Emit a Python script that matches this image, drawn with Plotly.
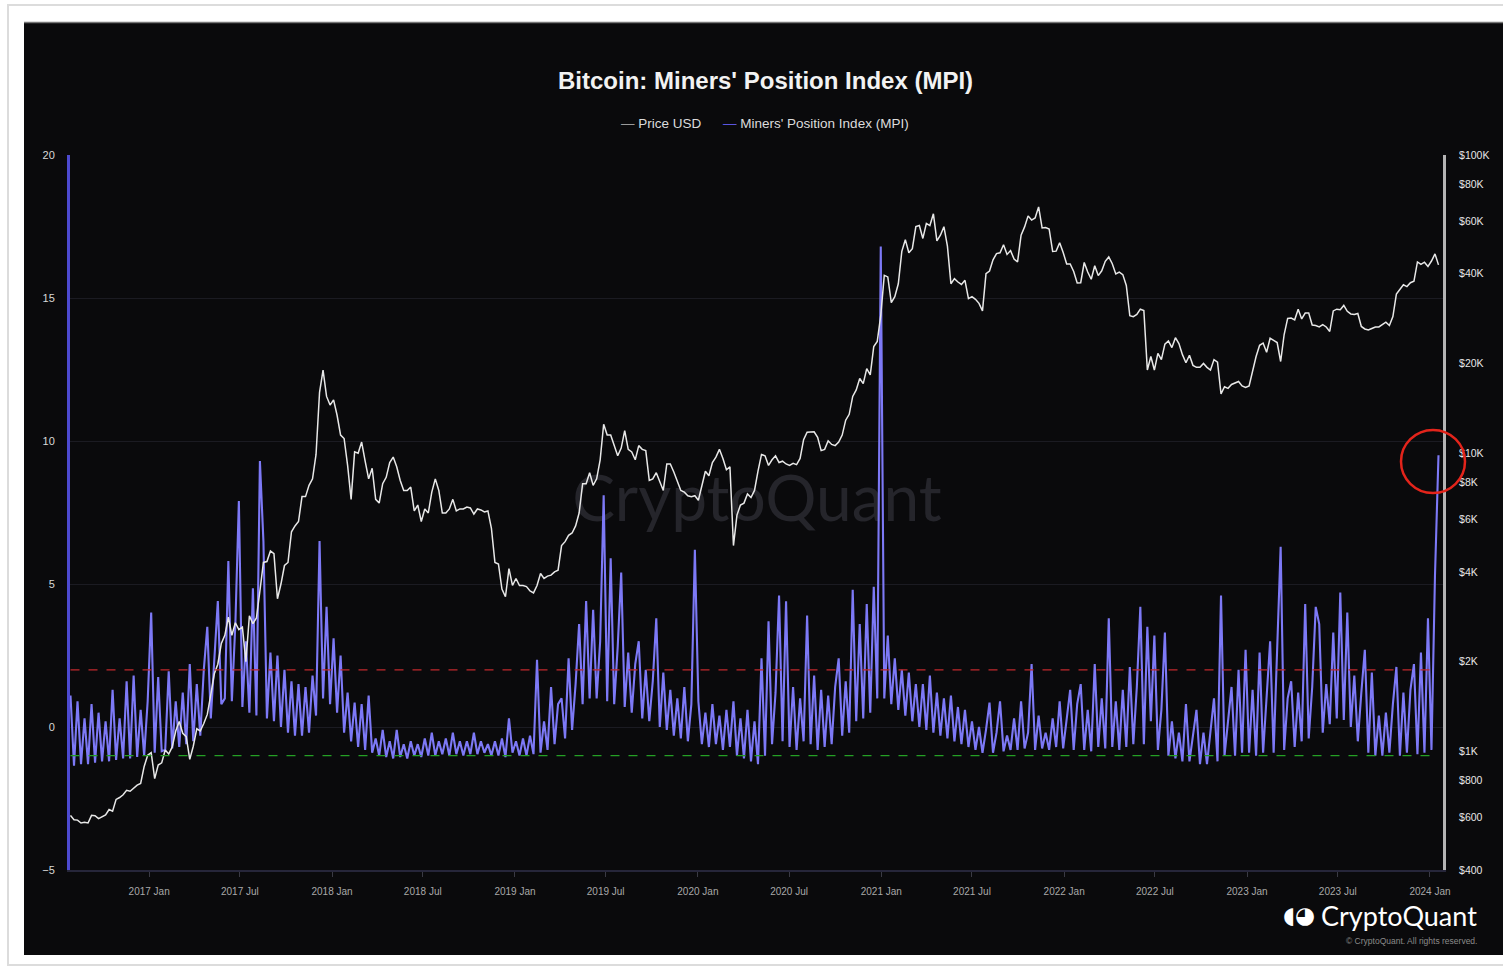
import numpy as np
import pandas as pd
import plotly.graph_objects as go

# ---------------- data (weekly) ----------------
start_date = "2016-07-28"

price_2016 = [610, 590, 588, 575, 578, 575, 610, 608, 595, 605, 612, 638, 630, 690, 700,
              715, 740, 735, 755, 770, 780, 890, 970]
price_2017 = [990, 810, 900, 915, 1010, 980, 1035, 1170, 1260, 1150, 1120, 940, 1040, 1190,
              1170, 1240, 1330, 1550, 1820, 1960, 2300, 2450, 2820, 2450, 2700, 2560, 2610,
              2000, 2850, 2680, 2800, 3450, 4300, 4330, 4700, 4600, 3250, 3640, 4200, 4300,
              5450, 5700, 5900, 7150, 7150, 7800, 8200, 9900, 16000, 19000, 15500, 14500]
price_2018 = [15100, 13400, 11500, 11200, 9100, 7000, 10100, 10000, 10900, 9400, 8200, 8900,
              7000, 6800, 7900, 8300, 9300, 9700, 9000, 8100, 7500, 7500, 7700, 6400, 6700,
              5900, 6500, 6300, 7400, 8200, 7500, 6300, 6300, 6500, 7000, 6400, 6500, 6500,
              6600, 6550, 6250, 6500, 6450, 6350, 6400, 5600, 4300, 4250, 3500, 3300, 4100, 3600]
price_2019 = [3800, 3600, 3600, 3570, 3450, 3400, 3600, 3950, 3800, 3870, 3900, 4000, 4050,
              4900, 5050, 5300, 5400, 5700, 6300, 7900, 7900, 8600, 7800, 8200, 9500, 12500,
              11500, 11500, 10600, 9800, 10400, 11900, 10300, 10100, 9500, 10600, 10300, 10200,
              8100, 8200, 8600, 8000, 7500, 9200, 9200, 8650, 8100, 7500, 7400, 7200, 7150, 7200]
price_2020 = [6950, 7800, 8700, 8400, 9300, 9700, 10300, 9600, 8800, 9000, 4900, 6200, 6700,
              6800, 7300, 7100, 7500, 8700, 9900, 9800, 9100, 9500, 9800, 9300, 9400, 9200,
              9100, 9250, 9150, 9600, 11100, 11750, 11800, 11800, 11300, 10200, 10300, 11000,
              10700, 10600, 10900, 11500, 12900, 13500, 15500, 16300, 17800, 17100, 19200,
              18300, 22800, 23700, 29000]
price_2021 = [39500, 39000, 32000, 33500, 37000, 47500, 52000, 47000, 48500, 57500, 58000,
              52500, 59000, 58000, 63500, 51500, 53800, 57500, 49500, 37000, 38500, 37500,
              36800, 38000, 33000, 33500, 32800, 31800, 30000, 40000, 40800, 44500, 46700,
              47000, 50000, 46400, 47800, 44800, 43800, 53800, 57400, 62500, 60500, 61500,
              67000, 56900, 57100, 56500, 47500, 47600, 50800, 47100]
price_2022 = [43100, 43100, 40700, 37200, 37300, 43600, 40500, 38300, 42500, 39400, 40900,
              44000, 45500, 43200, 39900, 40500, 39700, 36500, 28900, 28700, 29200, 30400,
              30100, 19000, 21100, 19000, 21600, 20600, 23200, 23800, 22600, 24400, 23300,
              21400, 20100, 21300, 19700, 19400, 19400, 20000, 19400, 19000, 20600, 20200,
              15800, 16700, 16500, 17000, 17200, 17400, 16800, 16600]
price_2023 = [16800, 18800, 21100, 23000, 23400, 21800, 24300, 23900, 23500, 20300, 25000,
              28300, 28400, 28000, 30400, 28200, 29500, 29500, 26900, 26800, 26500, 27000,
              26500, 25600, 30000, 30400, 30300, 31300, 29900, 29300, 29200, 29400, 26600,
              26100, 25900, 26200, 26500, 26500, 27000, 27500, 26800, 28700, 34200, 35400,
              36700, 36200, 37300, 37700, 43800, 43000, 43700, 42300]
price_2024 = [44100, 46600, 42800]

mpi_2016 = [1.1, -1.35, 0.9, -1.3, 0.3, -1.3, 0.8, -1.25, 0.5, -1.2, 0.2, -1.2, 1.3, -1.15,
            0.3, -1.1, 1.6, -1.1, 1.8, -1.05, 0.6, -1.0, 0.9]
mpi_2017 = [4.0, -0.9, 1.75, -0.85, -0.8, 1.95, -0.75, 0.9, -0.7, 1.2, -0.6, 2.2, -0.5, 1.5,
            -0.3, 2.0, 3.5, 0.3, 2.5, 4.4, 0.8, 1.0, 5.8, 0.9, 3.6, 7.9, 0.7, 3.0, 0.5, 4.85,
            0.4, 9.3, 6.5, 0.3, 2.6, 0.2, 2.5, 0.0, 2.0, -0.2, 1.6, -0.3, 1.5, -0.3, 1.4,
            -0.2, 1.8, 0.4, 6.5, 1.0, 4.2, 0.8]
mpi_2018 = [3.1, 0.5, 2.5, -0.2, 1.2, -0.5, 0.85, -0.7, 0.8, -0.8, 1.1, -0.9, -0.4, -1.0,
            -0.1, -1.05, -0.5, -1.1, -0.1, -1.05, -0.6, -1.1, -0.5, -1.0, -0.6, -1.05, -0.4,
            -1.0, -0.2, -1.0, -0.5, -0.95, -0.4, -1.0, -0.2, -0.95, -0.5, -1.0, -0.5, -0.95,
            -0.2, -0.95, -0.5, -0.9, -0.6, -1.0, -0.5, -1.0, -0.4, -1.05, 0.3, -0.9]
mpi_2019 = [-0.5, -1.0, -0.4, -1.0, -0.3, -0.95, 2.35, -0.9, 0.2, -0.8, 1.4, -0.6, 0.8, 1.0,
            -0.4, 2.4, -0.1, 1.5, 3.6, 0.8, 4.4, 1.0, 4.1, 1.0, 3.0, 8.1, 0.9, 5.9, 0.8, 2.8,
            5.4, 0.7, 2.6, 0.5, 2.2, 3.0, 0.3, 2.0, 0.2, 1.6, 3.8, 0.0, 1.9, -0.1, 1.3, -0.3,
            1.0, -0.4, 1.4, -0.5, 0.8, 6.2]
mpi_2020 = [0.9, -0.6, 0.5, -0.7, 0.8, -0.6, 0.4, -0.8, 0.6, -0.7, 0.9, -1.0, 0.3, -1.1,
            0.6, -1.2, 0.2, -1.3, 2.4, -1.0, 3.7, -0.6, 1.2, 4.6, -0.5, 4.4, -0.7, 1.4, -0.8,
            1.0, -0.5, 3.9, -0.6, 1.8, -0.8, 1.3, -0.7, 1.1, -0.6, 1.4, 2.4, -0.3, 1.6, -0.2,
            4.8, 0.2, 3.6, 0.3, 4.3, 0.5, 4.9, 1.0, 16.8]
mpi_2021 = [1.0, 3.2, 0.8, 2.4, 0.6, 2.0, 0.4, 1.9, 0.2, 1.5, 0.0, 1.5, -0.1, 1.8, -0.2, 1.2,
            -0.3, 1.0, -0.4, 1.1, -0.5, 0.7, -0.6, 0.6, -0.7, 0.2, -0.8, 0.0, -0.9, -0.1,
            0.85, -0.9, -0.2, 0.9, -0.85, -0.3, -0.8, 0.3, -0.8, 0.9, -0.75, -0.2, 2.2, -0.8,
            0.4, -0.75, -0.2, -0.8, 0.3, -0.7, 0.9, -0.75]
mpi_2022 = [0.3, 1.3, -0.8, 0.8, 1.5, -0.8, 0.6, -0.85, 2.2, -0.7, 1.0, -0.75, 3.8, -0.7,
            0.9, -0.8, 1.3, -0.7, 2.1, -0.6, 1.4, 4.2, -0.6, 3.5, 0.2, 3.2, -0.8, 0.6, 3.3,
            -1.0, 0.2, -1.1, -0.2, -1.2, 0.8, -1.2, -0.3, 0.6, -1.3, -0.2, -1.3, -0.1, 1.0,
            -1.2, 4.6, -1.0, 0.3, 1.4, -1.0, 2.0, -0.9, 2.7]
mpi_2023 = [-0.9, 1.3, -1.0, 2.6, -0.9, 0.9, 3.0, -0.9, 2.6, 6.3, -0.8, 1.0, 1.6, -0.7, 1.2,
            -0.5, 4.3, -0.4, 1.4, 4.2, 3.6, -0.2, 1.5, 0.1, 3.3, 0.3, 4.7, 0.25, 4.0, 0.0,
            1.8, -0.5, 1.2, 2.7, -0.9, 1.9, -1.0, 0.4, -1.0, 0.5, -0.9, 0.8, 2.1, -1.0, 1.2,
            -0.9, 1.3, 2.2, -0.95, 2.6, -0.9, 3.8]
mpi_2024 = [-0.8, 5.3, 9.5]

mpi_upper_band = 2
mpi_lower_band = -1

price_tick_vals = [400, 600, 800, 1000, 2000, 4000, 6000, 8000, 10000, 20000, 40000,
                   60000, 80000, 100000]
price_tick_text = ["$400", "$600", "$800", "$1K", "$2K", "$4K", "$6K", "$8K", "$10K",
                   "$20K", "$40K", "$60K", "$80K", "$100K"]
mpi_tick_vals = [-5, 0, 5, 10, 15, 20]

price = (price_2016 + price_2017 + price_2018 + price_2019 + price_2020 + price_2021
         + price_2022 + price_2023 + price_2024)
mpi = (mpi_2016 + mpi_2017 + mpi_2018 + mpi_2019 + mpi_2020 + mpi_2021
       + mpi_2022 + mpi_2023 + mpi_2024)
assert len(price) == len(mpi)
dates = pd.date_range(start_date, periods=len(price), freq="7D")

# ---------------- styling ----------------
BG = "#0a0a0c"
FONT = "Liberation Sans"
MPI_COLOR = "#7d79f6"
PRICE_COLOR = "#e8e8e8"

W, H = 1503, 969
L, R, T, B = 70, 60, 155, 99
PW, PH = W - L - R, H - T - B


def px(xp):
    return (xp - L) / PW


def py(yp):
    return (H - B - yp) / PH


fig = go.Figure()

# watermark (drawn first so it stays beneath the data)
fig.add_trace(go.Scatter(
    x=[pd.Timestamp("2020-04-28")], y=[7.76], mode="text", text=["CryptoQuant"],
    textfont=dict(size=64, color="#25252b", family="Lato"),
    showlegend=False, hoverinfo="skip"))

fig.add_trace(go.Scatter(
    x=dates, y=mpi, mode="lines", name="Miners' Position Index (MPI)",
    line=dict(color=MPI_COLOR, width=2.1), yaxis="y", showlegend=False))

fig.add_trace(go.Scatter(
    x=dates, y=price, mode="lines", name="Price USD",
    line=dict(color=PRICE_COLOR, width=1.5), yaxis="y2", showlegend=False))

shapes = [
    # outer light frame
    dict(type="rect", xref="paper", yref="paper", x0=px(8), x1=px(1512), y0=py(965), y1=py(5),
         line=dict(color="#dcdcdc", width=2), fillcolor="white", layer="below"),
    # dark card
    dict(type="rect", xref="paper", yref="paper", x0=px(24), x1=px(1510), y0=py(955), y1=py(22),
         line=dict(width=0), fillcolor=BG, layer="below"),
    dict(type="line", xref="paper", yref="paper", x0=px(24), x1=px(1510), y0=py(22.5), y1=py(22.5),
         line=dict(color="#777777", width=1.5), layer="below"),
    # reference levels
    dict(type="line", xref="x", yref="y", x0=dates[0], x1=dates[-1],
         y0=mpi_upper_band, y1=mpi_upper_band,
         line=dict(color="#c0282c", width=1.2, dash="dash"), layer="above"),
    dict(type="line", xref="x", yref="y", x0=dates[0], x1=dates[-1],
         y0=mpi_lower_band, y1=mpi_lower_band,
         line=dict(color="#25a025", width=1.2, dash="dash"), layer="above"),
    # red highlight circle
    dict(type="circle", xref="paper", yref="paper", xsizemode="pixel", ysizemode="pixel",
         xanchor=px(1433), yanchor=py(461.5), x0=-32, x1=32, y0=-31.5, y1=31.5,
         line=dict(color="#e3241b", width=2.5), layer="above"),
]

annotations = [
    dict(text="<b>Bitcoin: Miners' Position Index (MPI)</b>", xref="paper", yref="paper",
         x=px(766), y=py(80), showarrow=False, xanchor="center", yanchor="middle",
         font=dict(family=FONT, size=24, color="#f2f2f2")),
    dict(text="<span style='color:#9a9a9a'>—</span> Price USD", xref="paper", yref="paper",
         x=px(619), y=py(124), showarrow=False, xanchor="left", yanchor="middle",
         font=dict(family=FONT, size=13.5, color="#dcdcdc")),
    dict(text="<span style='color:#5a55e0'>—</span> Miners' Position Index (MPI)",
         xref="paper", yref="paper",
         x=px(721), y=py(124), showarrow=False, xanchor="left", yanchor="middle",
         font=dict(family=FONT, size=13.5, color="#dcdcdc")),
    dict(text="◖◕", xref="paper", yref="paper", x=px(1317), y=py(915), showarrow=False,
         xanchor="right", yanchor="middle",
         font=dict(family="DejaVu Sans", size=23, color="#ffffff")),
    dict(text="CryptoQuant", xref="paper", yref="paper", x=px(1479), y=py(915),
         showarrow=False, xanchor="right", yanchor="middle",
         font=dict(family="Lato", size=27, color="#ffffff")),
    dict(text="© CryptoQuant. All rights reserved.", xref="paper", yref="paper",
         x=px(1479), y=py(941), showarrow=False, xanchor="right", yanchor="middle",
         font=dict(family=FONT, size=8.5, color="#8a8a8a")),
]

fig.update_layout(
    width=W, height=H,
    margin=dict(l=L, r=R, t=T, b=B, pad=0),
    paper_bgcolor="white",
    plot_bgcolor=BG,
    showlegend=False,
    shapes=shapes,
    annotations=annotations,
    xaxis=dict(
        type="date", range=["2016-07-27", "2024-01-27"],
        tick0="2017-01-01", dtick="M6", tickformat="%Y %b",
        showgrid=False, zeroline=False,
        showline=True, linecolor="#26263a", linewidth=2,
        ticks="outside", ticklen=5, tickcolor="#3a3a44", tickwidth=1,
        tickfont=dict(family=FONT, size=10, color="#a8a8a8"),
        ticklabelstandoff=6,
    ),
    yaxis=dict(
        range=[-5, 20], tickvals=mpi_tick_vals,
        showgrid=True, gridcolor="#1b1b22", gridwidth=1, zeroline=False,
        showline=True, linecolor="#4d4ad0", linewidth=3,
        ticks="", tickfont=dict(family=FONT, size=11, color="#d8d8d8"),
        ticklabelstandoff=10,
    ),
    yaxis2=dict(
        type="log", range=[np.log10(400), 5], overlaying="y", side="right",
        tickvals=price_tick_vals, ticktext=price_tick_text,
        showgrid=False, zeroline=False,
        showline=True, linecolor="#b4b4b4", linewidth=3,
        ticks="", tickfont=dict(family=FONT, size=10.5, color="#e6e6e6"),
        ticklabelstandoff=11,
    ),
)

fig.write_html(
    "out.html",
    config={"displayModeBar": False},
    post_script="document.body.style.margin='0';document.body.style.overflow='hidden';",
)
